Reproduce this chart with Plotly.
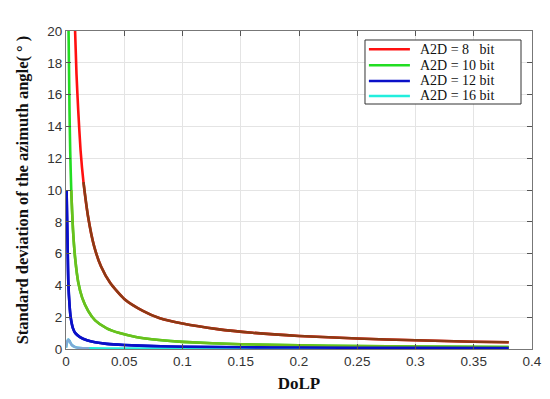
import plotly.graph_objects as go

# DoLP sample points and standard deviation (degrees)
red_x = [0.0078, 0.009, 0.0105, 0.0125, 0.015, 0.019, 0.024, 0.03, 0.038, 0.05,
         0.066, 0.08, 0.1, 0.13, 0.16, 0.2, 0.25, 0.3, 0.35, 0.38]
red_y = [20, 17.3, 15, 12.5, 10.5, 8.3, 6.5, 5.2, 4.15, 3.15,
         2.4, 1.95, 1.6, 1.25, 1.02, 0.82, 0.66, 0.55, 0.46, 0.42]

green_x = [0.0022, 0.003, 0.0036, 0.0045, 0.006, 0.008, 0.0105, 0.014, 0.019, 0.025,
           0.035, 0.046, 0.06, 0.08, 0.1, 0.15, 0.2, 0.25, 0.3, 0.38]
green_y = [20, 15, 12.5, 10, 7.5, 5.6, 4.2, 3.2, 2.4, 1.8,
           1.3, 1.0, 0.76, 0.57, 0.45, 0.3, 0.23, 0.18, 0.15, 0.12]

blue_x = [0.0005, 0.001, 0.0015, 0.002, 0.003, 0.004, 0.006, 0.008, 0.012, 0.018,
          0.025, 0.035, 0.05, 0.075, 0.1, 0.15, 0.2, 0.3, 0.38]
blue_y = [10, 8, 6, 4.2, 2.8, 2.0, 1.3, 1.0, 0.75, 0.55,
          0.42, 0.32, 0.25, 0.18, 0.14, 0.11, 0.09, 0.07, 0.06]

cyan_x = [0, 0.001, 0.002, 0.003, 0.005, 0.008, 0.012, 0.02, 0.05, 0.1, 0.2, 0.38]
cyan_y = [0.1, 0.45, 0.6, 0.5, 0.25, 0.12, 0.06, 0.04, 0.03, 0.02, 0.015, 0.01]

legend_names = ["A2D = 8\u00a0\u00a0 bit", "A2D = 10 bit", "A2D = 12 bit", "A2D = 16 bit"]
legend_colors = ["#ff1010", "#22dd22", "#0a10c8", "#22eedd"]
x_ticks = [0, 0.05, 0.1, 0.15, 0.2, 0.25, 0.3, 0.35, 0.4]
x_tick_text = ["0", "0.05", "0.1", "0.15", "0.2", "0.25", "0.3", "0.35", "0.4"]
y_ticks = list(range(0, 21, 2))

fig = go.Figure()

def add(xs, ys, color, name):
    fig.add_trace(go.Scatter(x=xs, y=ys, mode="lines", name=name, showlegend=False,
                             line=dict(color=color, width=2.6, shape="spline", smoothing=0.6)))

add(red_x, red_y, legend_colors[0], legend_names[0])
add(green_x, green_y, legend_colors[1], legend_names[1])
add(blue_x, blue_y, legend_colors[2], legend_names[2])
add(cyan_x, cyan_y, legend_colors[3], legend_names[3])
# darker lower segments (as in the reference)
add([x for x, y in zip(red_x, red_y) if y <= 10.5], [y for y in red_y if y <= 10.5], "#8b3a14", legend_names[0])
add([x for x, y in zip(green_x, green_y) if y <= 10], [y for y in green_y if y <= 10], "#6cbf1c", legend_names[1])
add(blue_x, blue_y, legend_colors[2], legend_names[2])
add(cyan_x[:8], cyan_y[:8], "#7fa8d8", legend_names[3])

# compact MATLAB-style legend box
lx0, lx1, ly0, ly1 = 0.6416, 0.9764, 0.7704, 0.9717
fig.add_shape(type="rect", xref="paper", yref="paper", x0=lx0, x1=lx1, y0=ly0, y1=ly1,
              line=dict(color="#333333", width=1), fillcolor="white", layer="above")
row_y = [0.9425, 0.8921, 0.8428, 0.7956]
for name, color, yy in zip(legend_names, legend_colors, row_y):
    fig.add_shape(type="line", xref="paper", yref="paper", x0=0.650, x1=0.738, y0=yy, y1=yy,
                  line=dict(color=color, width=2.6), layer="above")
    fig.add_annotation(xref="paper", yref="paper", x=0.755, y=yy, xanchor="left", yanchor="middle",
                       text=name, showarrow=False,
                       font=dict(family="Liberation Serif, Times New Roman", size=14, color="#111"))

axis_common = dict(showline=True, linecolor="#777777", linewidth=1, mirror="ticks",
                   ticks="inside", ticklen=5, tickcolor="#555555", automargin=False,
                   showgrid=True, gridcolor="#e4e4e4", gridwidth=1, zeroline=False,
                   tickfont=dict(family="Liberation Sans, Arial", size=13.5, color="#333333"))

fig.update_xaxes(range=[0, 0.4], tickvals=x_ticks, ticktext=x_tick_text,
                 title=dict(text="<b>DoLP</b>", font=dict(family="Liberation Serif, Times New Roman", size=17, color="#111"), standoff=8),
                 **axis_common)
fig.update_yaxes(range=[0, 20], tickvals=y_ticks,
                 title=dict(text="<b>Standard deviation of the azimuth angle(\u00a0°\u00a0)</b>",
                            font=dict(family="Liberation Serif, Times New Roman", size=16.5, color="#111"), standoff=14),
                 **axis_common)

fig.update_layout(
    width=550, height=399,
    margin=dict(l=66, r=18, t=31, b=50),
    paper_bgcolor="white", plot_bgcolor="white",
    showlegend=False,
)

fig.write_html("out.html", config={"displayModeBar": False},
               post_script="document.body.style.margin='0';document.body.style.overflow='hidden';")
